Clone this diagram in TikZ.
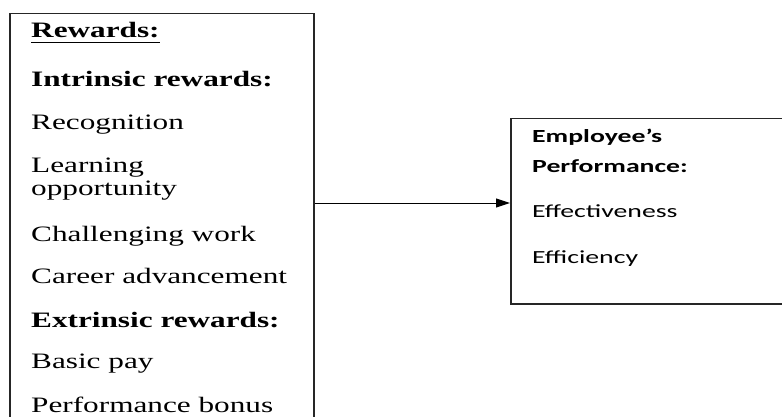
\documentclass[tikz,border=0pt]{standalone}
\usepackage{fontspec}
\setmainfont[FakeStretch=1.42]{Liberation Serif}
\newfontfamily\calfont[FakeStretch=1.5]{Carlito}
\usetikzlibrary{arrows.meta}

\tikzset{
  framebox/.style={draw=black!85, line width=1.5pt, rectangle, inner sep=0pt, anchor=north west},
  serifitem/.style={anchor=base west, inner sep=0pt, font=\fontsize{22}{22}\selectfont},
  serifhead/.style={serifitem, font=\fontsize{22}{22}\selectfont\bfseries},
  sansitem/.style={anchor=base west, inner sep=0pt, font=\calfont\fontsize{18.5}{18.5}\selectfont},
  sanshead/.style={sansitem, font=\calfont\fontsize{18.5}{18.5}\selectfont\bfseries},
  link/.style={draw=black, line width=1pt, -{Triangle[length=14pt,width=9pt]}}
}

\begin{document}
\begin{tikzpicture}[x=1pt, y=-1pt]
  \useasboundingbox (0,0) rectangle (782,417);
  \clip (0,0) rectangle (782,417);

  % the two frames (both run past the edge of the page)
  \node[framebox, minimum width=304pt, minimum height=430pt] (rewards) at (9,13) {};
  \node[framebox, minimum width=300pt, minimum height=185pt] (perf) at (510,118) {};

  % left frame: list of rewards
  \node[serifhead] (rw) at (31,38) {Rewards:};
  \draw[line width=1.8pt] ([yshift=-4.5pt]rw.base west) -- ([yshift=-4.5pt]rw.base east);
  \node[serifhead] (intr) at (31,87) {Intrinsic rewards:};
  \node[serifitem] (recog) at (31,130) {Recognition};
  \node[serifitem] (learn1) at (31,173) {Learning};
  \node[serifitem] (learn2) at (31,195) {opportunity};
  \node[serifitem] (chall) at (31,241) {Challenging work};
  \node[serifitem] (career) at (31,283) {Career advancement};
  \node[serifhead] (extr) at (31,327) {Extrinsic rewards:};
  \node[serifitem] (basic) at (31,368) {Basic pay};
  \node[serifitem] (bonus) at (31,412) {Performance bonus};

  % right frame: performance
  \node[sanshead] (emp) at (532,143) {Employee’s};
  \node[sanshead] (perfhead) at (532,172) {Performance:};
  \node[sansitem] (effect) at (532,217) {Effectiveness};
  \node[sansitem] (effic) at (532,263) {Efficiency};

  % connector
  \coordinate (row) at (0,203);
  \draw[link] (rewards.east |- row) -- (perf.west |- row);
\end{tikzpicture}
\end{document}
